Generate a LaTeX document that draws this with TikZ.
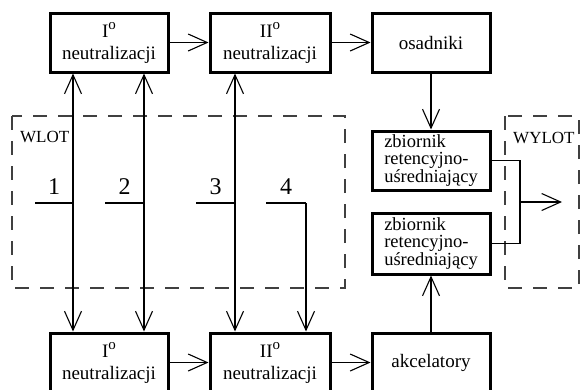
\documentclass[tikz,border=0pt]{standalone}
\usepackage{fontspec}
\setmainfont{Liberation Serif}
\usetikzlibrary{arrows.meta}
\tikzset{vtip/.tip={Straight Barb[length=19pt,width=17pt]}}
\newcommand{\stg}{\raisebox{8pt}{\fontsize{15}{15}\selectfont o}}

\begin{document}
\begin{tikzpicture}[x=1pt,y=-1pt,
    stage/.style={draw,line width=3pt,minimum width=118pt,minimum height=59pt,
      inner sep=0pt,align=center,font=\fontsize{19}{22}\selectfont},
    tank/.style={stage,align=left,font=\fontsize{18.5}{17.5}\selectfont},
    pipe/.style={line width=1.1pt},
    flow/.style={pipe,-vtip},
    both/.style={pipe,vtip-vtip},
    zone/.style={line width=1.5pt,draw=black!75,dash pattern=on 14pt off 11pt},
    zonelabel/.style={inner sep=0pt,anchor=base west,font=\fontsize{17}{17}\selectfont},
    number/.style={inner sep=0pt,font=\fontsize{24}{24}\selectfont}]
    \useasboundingbox (0,0) rectangle (580,389);
    % dashed zones
    \draw[zone] (12,116) rectangle (345,288);
    \draw[zone] (505,116) rectangle (579,288);
    \node[zonelabel] (wlot) at (20,142) {WLOT};
    \node[zonelabel] (wylot) at (513,143) {WYLOT};
    % top row
    \node[stage] (neutA) at (109,42.5) {I\stg\\neutralizacji};
    \node[stage,minimum width=120pt] (neutB) at (270,42.5) {II\stg\\neutralizacji};
    \node[stage] (osad) at (431,42.5) {osadniki};
    % tanks
    \node[tank] (tankA) at (431,160.5) {zbiornik\\retencyjno-\\uśredniający};
    \node[tank,minimum height=61pt] (tankB) at (431,243.5) {zbiornik\\retencyjno-\\uśredniający};
    % bottom row
    \node[stage] (neutC) at (109,362.5) {I\stg\\neutralizacji};
    \node[stage,minimum width=120pt] (neutD) at (270,362.5) {II\stg\\neutralizacji};
    \node[stage] (akc) at (431,362.5) {akcelatory};
    % inlets
    \foreach \n/\s/\j in {1/35/73,2/105/144,3/196/235,4/266/306} {
      \coordinate (in\n) at (\s,203);
      \coordinate (j\n) at (\j,203);
      \draw[pipe] (in\n) -- (j\n) node[number,midway,above=7.5pt] (lab\n) {\n};
    }
    \draw[both] (j1 |- neutA.south) -- (j1 |- neutC.north);
    \draw[both] (j2 |- neutA.south) -- (j2 |- neutC.north);
    \draw[both] (j3 |- neutB.south) -- (j3 |- neutD.north);
    \draw[flow] (j4) -- (j4 |- neutD.north);
    % main flow
    \draw[flow] (neutA) -- (neutB);
    \draw[flow] (neutB) -- (osad);
    \draw[flow] (osad) -- (tankA);
    \draw[flow] (neutC) -- (neutD);
    \draw[flow] (neutD) -- (akc);
    \draw[flow] (akc) -- (tankB);
    % outlet
    \coordinate (merge) at (520,202);
    \coordinate (out) at (562,202);
    \draw[pipe] (tankA.east) -| (merge) |- (tankB.east);
    \draw[flow] (merge) -- (out);
  \end{tikzpicture}
\end{document}
